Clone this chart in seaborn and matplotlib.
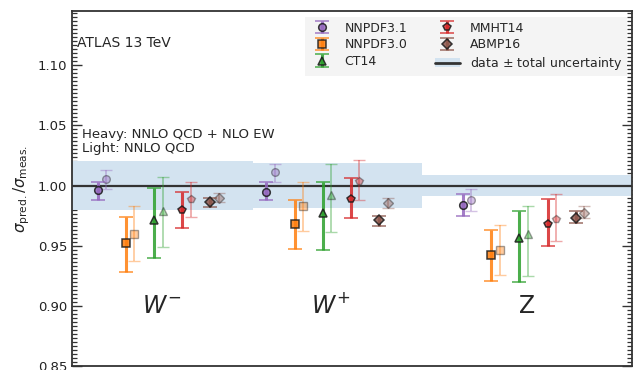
import numpy as np
import pandas as pd
import matplotlib
matplotlib.use("Agg")
import matplotlib.pyplot as plt
import seaborn as sns
from matplotlib.ticker import MultipleLocator
from matplotlib.patches import Patch
from matplotlib.lines import Line2D

# ---------------- data ----------------
categories = ["W^-", "W^+", "Z"]
cat_labels = [r"$W^{-}$", r"$W^{+}$", r"$\mathrm{Z}$"]
pdfs = ["NNPDF3.1", "NNPDF3.0", "CT14", "MMHT14", "ABMP16"]

# rows: pdfs, cols: categories (W-, W+, Z)
heavy_val = [[0.996, 0.995, 0.984],
             [0.952, 0.968, 0.942],
             [0.971, 0.977, 0.956],
             [0.980, 0.989, 0.968],
             [0.986, 0.971, 0.973]]
heavy_hi = [[1.003, 1.003, 0.993],
            [0.974, 0.988, 0.963],
            [0.998, 1.003, 0.979],
            [0.995, 1.006, 0.989],
            [0.990, 0.975, 0.979]]
heavy_lo = [[0.988, 0.988, 0.975],
            [0.928, 0.947, 0.921],
            [0.940, 0.946, 0.920],
            [0.965, 0.973, 0.950],
            [0.982, 0.966, 0.969]]

light_val = [[1.005, 1.011, 0.988],
             [0.960, 0.983, 0.946],
             [0.979, 0.992, 0.960],
             [0.989, 1.004, 0.972],
             [0.990, 0.9855, 0.9775]]
light_hi = [[1.0125, 1.018, 0.997],
            [0.983, 1.003, 0.967],
            [1.007, 1.018, 0.983],
            [1.003, 1.021, 0.993],
            [0.994, 0.990, 0.983]]
light_lo = [[0.997, 1.003, 0.979],
            [0.937, 0.962, 0.926],
            [0.949, 0.961, 0.925],
            [0.974, 0.988, 0.954],
            [0.986, 0.981, 0.973]]

band_lo = [0.980, 0.981, 0.991]
band_hi = [1.020, 1.019, 1.009]

# ---------------- layout / style ----------------
group_x = [0.0, 1.0, 2.166]
band_edges = [(-0.513, 0.561), (0.561, 1.564), (1.564, 2.810)]
pdf_step = 0.167
hl_off = 0.025
markers = ["o", "s", "^", "p", "D"]
msizes = [5.5, 5.5, 6, 6, 5.2]
colors = sns.color_palette("tab10")
pdf_colors = [colors[4], colors[1], colors[2], colors[3], colors[5]]
band_color = "#d3e3f0"

sns.set_theme(style="ticks")
plt.rcParams["font.family"] = ["DejaVu Sans"]
plt.rcParams["mathtext.fontset"] = "dejavusans"

fig, ax = plt.subplots(figsize=(6.36, 3.70), dpi=100)
fig.subplots_adjust(left=0.113, right=0.994, top=0.970, bottom=0.011)

# bands
for (x0, x1), lo, hi in zip(band_edges, band_lo, band_hi):
    ax.fill_between([x0, x1], [lo, lo], [hi, hi], color=band_color, lw=0, zorder=1)
ax.axhline(1.0, color="#333333", lw=1.6, zorder=2)

handles = []
for i, pdf in enumerate(pdfs):
    xs = np.array(group_x) + (i - 2) * pdf_step
    hv = np.array(heavy_val[i]); hh = np.array(heavy_hi[i]); hl = np.array(heavy_lo[i])
    lv = np.array(light_val[i]); lh = np.array(light_hi[i]); ll = np.array(light_lo[i])
    ax.errorbar(xs + hl_off, lv, yerr=[lv - ll, lh - lv], fmt=markers[i],
                color=pdf_colors[i], mec="k", mew=1.0, ms=msizes[i],
                elinewidth=1.3, capsize=4.5, capthick=1.3, alpha=0.4, zorder=3)
    cont = ax.errorbar(xs - hl_off, hv, yerr=[hv - hl, hh - hv], fmt=markers[i],
                       color=pdf_colors[i], mec="k", mew=1.1, ms=msizes[i],
                       elinewidth=2.2, capsize=5, capthick=1.6, alpha=0.85, zorder=4,
                       label=pdf)
    handles.append(cont)

data_handle = (Patch(facecolor=band_color, edgecolor="none"),
               Line2D([], [], color="#333333", lw=2))
handles.append(data_handle)
labels = pdfs + [r"data $\pm$ total uncertainty"]

leg = ax.legend(handles, labels, ncol=2, loc="upper right",
                bbox_to_anchor=(0.99, 0.983), borderaxespad=0, fontsize=9,
                frameon=True, fancybox=False, handlelength=2.0,
                columnspacing=2.2, labelspacing=0.3, borderpad=0.35)
leg.get_frame().set_facecolor("#f4f4f4")
leg.get_frame().set_edgecolor("none")
leg.get_frame().set_alpha(1)

# category labels
for gx, lab in zip(group_x, cat_labels):
    ax.text(gx + 0.02, 0.90, lab, fontsize=17, ha="center", va="center")

ax.text(0.009, 0.91, "ATLAS 13 TeV", transform=ax.transAxes, fontsize=10,
        ha="left", va="center")
ax.text(0.018, 1.042, "Heavy: NNLO QCD + NLO EW", fontsize=9.5,
        transform=ax.get_yaxis_transform(), ha="left", va="center")
ax.text(0.018, 1.0305, "Light: NNLO QCD", fontsize=9.5,
        transform=ax.get_yaxis_transform(), ha="left", va="center")

ax.set_xlim(-0.513, 2.810)
ax.set_ylim(0.85, 1.145)
ax.set_xticks([])
ax.yaxis.set_major_locator(MultipleLocator(0.05))
ax.yaxis.set_minor_locator(MultipleLocator(0.05 / 15))
ax.yaxis.set_major_formatter(matplotlib.ticker.FormatStrFormatter("%.2f"))
ax.tick_params(axis="y", which="both", direction="in", left=True, right=True,
               labelsize=9.5, colors="#333333", labelcolor="#222222")
ax.tick_params(axis="y", which="major", length=7, width=1.0)
ax.tick_params(axis="y", which="minor", length=3.5, width=0.9)
ax.set_ylabel(r"$\sigma_{\mathrm{pred.}}/\sigma_{\mathrm{meas.}}$", fontsize=11,
              color="#222222")
for s in ax.spines.values():
    s.set_color("#333333")
    s.set_linewidth(1.3)

fig.savefig("out.png", dpi=100)
